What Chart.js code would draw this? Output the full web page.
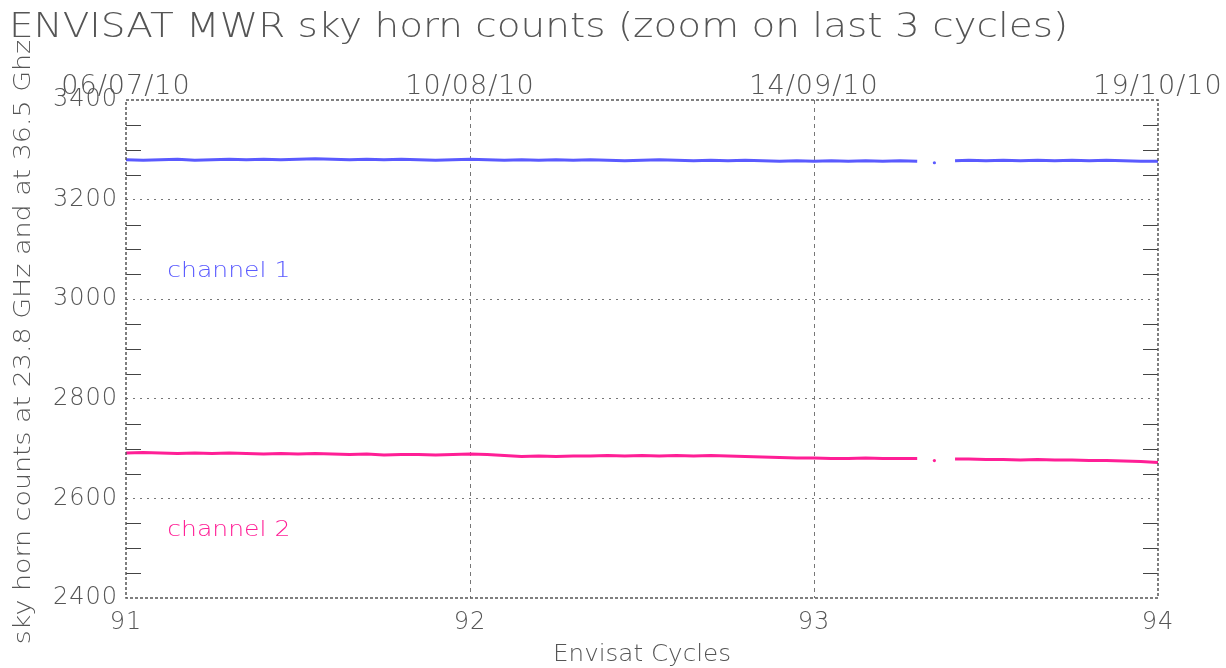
<!DOCTYPE html>
<html>
<head>
<meta charset="utf-8">
<script src="https://cdn.jsdelivr.net/npm/chart.js@4.4.1/dist/chart.umd.min.js"></script>
<style>
html, body { margin: 0; padding: 0; background: #fff; }
</style>
</head>
<body>
<canvas id="c" width="1226" height="668"></canvas>
<script>
// cycle positions of the samples (null = data gap)
const cycles = [
    91.00, 91.05, 91.10, 91.15, 91.20, 91.25, 91.30, 91.35, 91.40, 91.45,
    91.50, 91.55, 91.60, 91.65, 91.70, 91.75, 91.80, 91.85, 91.90, 91.95,
    92.00, 92.05, 92.10, 92.15, 92.20, 92.25, 92.30, 92.35, 92.40, 92.45,
    92.50, 92.55, 92.60, 92.65, 92.70, 92.75, 92.80, 92.85, 92.90, 92.95,
    93.00, 93.05, 93.10, 93.15, 93.20, 93.25, 93.30, 93.32, 93.35, 93.38,
    93.41, 93.45, 93.50, 93.55, 93.60, 93.65, 93.70, 93.75, 93.80, 93.85,
    93.90, 93.95, 94.00
];
const channel1 = [
    3280, 3279, 3280, 3281, 3279, 3280, 3281, 3280, 3281, 3280,
    3281, 3282, 3281, 3280, 3281, 3280, 3281, 3280, 3279, 3280,
    3281, 3280, 3279, 3280, 3279, 3280, 3279, 3280, 3279, 3278,
    3279, 3280, 3279, 3278, 3279, 3278, 3279, 3278, 3277, 3278,
    3277, 3278, 3277, 3278, 3277, 3278, 3277, null, 3274, null,
    3278, 3279, 3278, 3279, 3278, 3279, 3278, 3279, 3278, 3279,
    3278, 3277, 3277
];
const channel2 = [
    2691, 2692, 2691, 2690, 2691, 2690, 2691, 2690, 2689, 2690,
    2689, 2690, 2689, 2688, 2689, 2687, 2688, 2688, 2687, 2688,
    2689, 2688, 2686, 2684, 2685, 2684, 2685, 2685, 2686, 2685,
    2686, 2685, 2686, 2685, 2686, 2685, 2684, 2683, 2682, 2681,
    2681, 2680, 2680, 2681, 2680, 2680, 2680, null, 2676, null,
    2679, 2679, 2678, 2678, 2677, 2678, 2677, 2677, 2676, 2676,
    2675, 2674, 2672
];
const cycleTicks = [91, 92, 93, 94];
const dateTicks = ['06/07/10', '10/08/10', '14/09/10', '19/10/10'];
const seriesNames = ['channel 1', 'channel 2'];

const BLUE = '#5a5aff';
const PINK = '#ff1f96';
const GREY = '#555';

Chart.defaults.font.family = 'DejaVu Sans';
Chart.defaults.color = GREY;

function toPoints(vals) {
    return cycles.map((x, i) => ({ x: x, y: vals[i] }));
}

// a sample with gaps on both sides gets a dot, the rest is line
function isolatedRadius(ctx) {
    const d = ctx.dataset.data;
    const i = ctx.dataIndex;
    if (d[i] && d[i].y !== null && d[i - 1] && d[i - 1].y === null && d[i + 1] && d[i + 1].y === null) return 1.6;
    return 0;
}

function edgeless(color) {
    return ctx => {
        const s = ctx.scale;
        if (ctx.tick && (ctx.tick.value === s.min || ctx.tick.value === s.max)) return 'rgba(0,0,0,0)';
        return color;
    };
}

// wide, thin text like the original plotting font
function wideText(c, txt, x, y, sx) {
    c.save();
    c.translate(x, y);
    c.scale(sx, 1);
    c.fillText(txt, 0, 0);
    c.restore();
}

const extras = {
    id: 'extras',
    beforeDraw(chart) {
        chart.ctx.letterSpacing = '1px';
    },
    afterDraw(chart) {
        const c = chart.ctx;
        const a = chart.chartArea;
        const y = chart.scales.y;
        const x = chart.scales.x;
        c.save();
        c.letterSpacing = '0px';

        // minor ticks on both sides
        c.strokeStyle = '#444';
        c.lineWidth = 1;
        for (let v = 2450; v < 3400; v += 50) {
            if (v % 200 === 0) continue;
            const py = Math.round(y.getPixelForValue(v)) + 0.5;
            c.beginPath();
            c.moveTo(a.left, py); c.lineTo(a.left + 15, py);
            c.moveTo(a.right - 15, py); c.lineTo(a.right, py);
            c.stroke();
        }

        // frame
        c.strokeStyle = '#555';
        c.lineWidth = 1.5;
        c.setLineDash([3, 2]);
        c.strokeRect(a.left, a.top, a.right - a.left, a.bottom - a.top);
        c.setLineDash([]);

        // title
        c.fillStyle = GREY;
        c.font = '200 33px "DejaVu Sans"';
        c.textAlign = 'left';
        c.textBaseline = 'middle';
        wideText(c, 'ENVISAT MWR sky horn counts (zoom on last 3 cycles)', 9, 28, 1.18);

        // axis titles
        c.font = '200 23px "DejaVu Sans"';
        c.textAlign = 'center';
        wideText(c, 'Envisat Cycles', (a.left + a.right) / 2, 655, 1.07);
        c.save();
        c.translate(24, 342);
        c.rotate(-Math.PI / 2);
        wideText(c, 'sky horn counts at 23.8 GHz and at 36.5 Ghz', 0, 0, 1.17);
        c.restore();

        // channel labels
        c.font = '200 22px "DejaVu Sans"';
        c.textAlign = 'left';
        c.fillStyle = BLUE;
        wideText(c, seriesNames[0], x.getPixelForValue(91.12), y.getPixelForValue(3057), 1.14);
        c.fillStyle = PINK;
        wideText(c, seriesNames[1], x.getPixelForValue(91.12), y.getPixelForValue(2535), 1.14);
        c.restore();
    }
};

new Chart(document.getElementById('c'), {
    type: 'line',
    data: {
        datasets: [
            {
                label: seriesNames[0],
                data: toPoints(channel1),
                borderColor: BLUE,
                backgroundColor: BLUE,
                borderWidth: 3,
                pointRadius: isolatedRadius,
                pointBorderWidth: 0,
                spanGaps: false,
                tension: 0
            },
            {
                label: seriesNames[1],
                data: toPoints(channel2),
                borderColor: PINK,
                backgroundColor: PINK,
                borderWidth: 3,
                pointRadius: isolatedRadius,
                pointBorderWidth: 0,
                spanGaps: false,
                tension: 0
            }
        ]
    },
    options: {
        responsive: false,
        animation: false,
        layout: { padding: { left: 0, right: 68, top: 0, bottom: 0 } },
        plugins: {
            legend: { display: false },
            tooltip: { enabled: false }
        },
        scales: {
            x: {
                type: 'linear',
                position: 'bottom',
                min: 91,
                max: 94,
                afterBuildTicks: s => { s.ticks = cycleTicks.map(v => ({ value: v })); },
                ticks: {
                    font: { size: 24, weight: 200 },
                    padding: 10,
                    maxRotation: 0,
                    autoSkip: false,
                    callback: v => String(v)
                },
                grid: { color: edgeless('#777'), lineWidth: 1, drawTicks: false },
                border: { display: false, dash: [4, 4] },
                afterFit: s => { s.height = 70; s.paddingLeft = 0; s.paddingRight = 0; }
            },
            x2: {
                type: 'linear',
                position: 'top',
                min: 91,
                max: 94,
                afterBuildTicks: s => { s.ticks = cycleTicks.map(v => ({ value: v })); },
                ticks: {
                    font: { size: 27, weight: 200 },
                    padding: -3,
                    maxRotation: 0,
                    autoSkip: false,
                    callback: v => dateTicks[cycleTicks.indexOf(v)]
                },
                grid: { display: false, drawTicks: false },
                border: { display: false },
                afterFit: s => { s.height = 100; s.paddingLeft = 0; s.paddingRight = 0; }
            },
            y: {
                type: 'linear',
                min: 2400,
                max: 3400,
                ticks: { stepSize: 200, font: { size: 24, weight: 200 }, padding: 8, callback: v => String(v) },
                grid: { color: edgeless('#777'), lineWidth: 1, drawTicks: false },
                border: { display: false, dash: [2, 5] },
                afterFit: s => { s.width = 126; s.paddingTop = 0; s.paddingBottom = 0; }
            }
        }
    },
    plugins: [extras]
});
</script>
</body>
</html>
